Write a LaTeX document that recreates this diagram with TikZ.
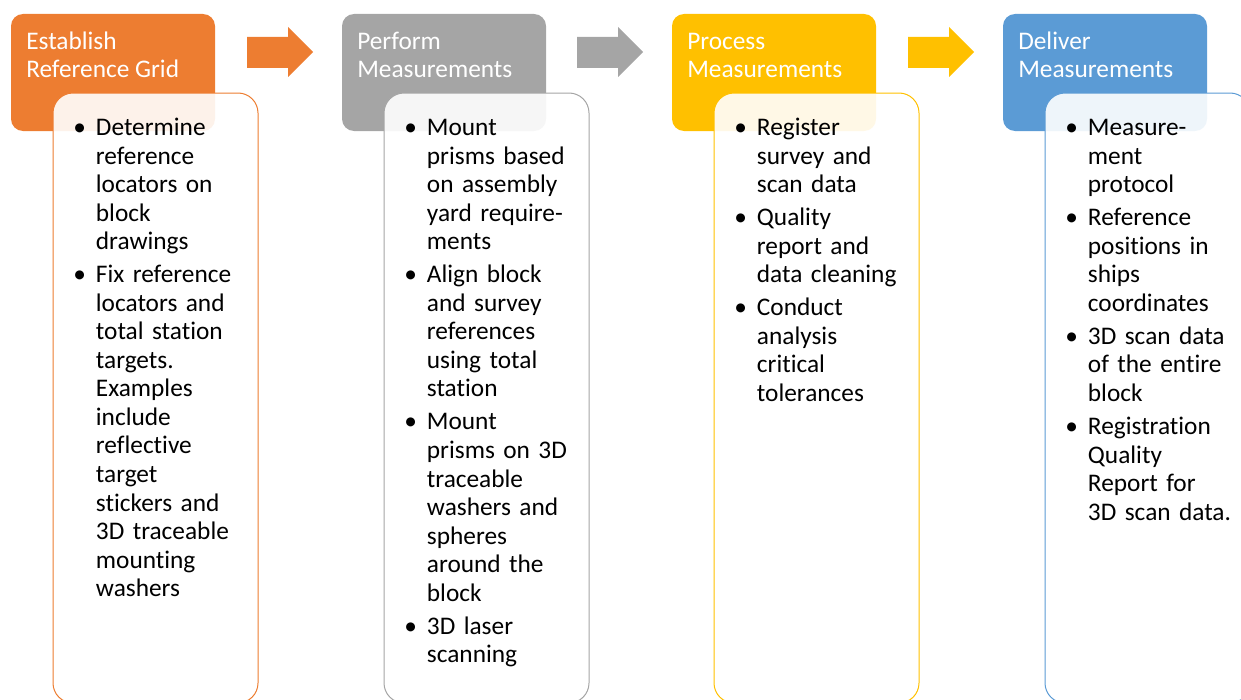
\documentclass[tikz,border=0pt]{standalone}
\usepackage{fontspec}
\setmainfont[Ligatures=NoCommon]{Carlito}
\usepackage{tikz}
\usetikzlibrary{arrows.meta}

\definecolor{estcol}{HTML}{ED7D31}
\definecolor{percol}{HTML}{A5A5A5}
\definecolor{procol}{HTML}{FFC000}
\definecolor{delcol}{HTML}{5B9BD5}

\newcommand{\blistlabel}[1]{#1\hfil}
\newenvironment{blist}{\begin{list}{\textbullet}{%
    \setlength{\leftmargin}{17pt}%
    \setlength{\labelsep}{0pt}%
    \setlength{\labelwidth}{17pt}%
    \setlength{\itemindent}{0pt}%
    \setlength{\itemsep}{3.4pt}%
    \setlength{\parsep}{0pt}%
    \setlength{\topsep}{0pt}%
    \setlength{\partopsep}{0pt}%
    \let\makelabel\blistlabel}\raggedright}{\end{list}}

\tikzset{
  hdtext/.style={anchor=base west,inner sep=0pt,align=left,text=white,
    font=\fontsize{19}{21.4}\selectfont},
  bodytext/.style={anchor=base west,inner sep=0pt,text width=140pt,
    font=\fontsize{19}{21.4}\selectfont},
  bodybox/.style={fill=white,fill opacity=0.9,line width=0.75pt,rounded corners=15pt},
  hdbox/.style={rounded corners=9pt}
}

\begin{document}
\begin{tikzpicture}[x=.75pt,y=-.75pt]
\useasboundingbox (0,0) rectangle (1241,699);
\clip (0,0) rectangle (1241,699);

\fill [hdbox,estcol] (11,14) rectangle (215,131);
\fill [hdbox,percol] (342,14) rectangle (546,131);
\fill [hdbox,procol] (672,14) rectangle (876,131);
\fill [hdbox,delcol] (1003,14) rectangle (1207,131);

\fill [estcol] (247,37) -- (288,37) -- (288,27) -- (313,52) -- (288,77) -- (288,68) -- (247,68) -- cycle;
\fill [percol] (577,37) -- (618,37) -- (618,27) -- (643,52) -- (618,77) -- (618,68) -- (577,68) -- cycle;
\fill [procol] (908,37) -- (949,37) -- (949,27) -- (974,52) -- (949,77) -- (949,68) -- (908,68) -- cycle;

\node [hdtext] (establish) at (26,78) {Establish\\Reference Grid};
\node [hdtext] (perform) at (357,78) {Perform\\Measurements};
\node [hdtext] (process) at (687,78) {Process\\Measurements};
\node [hdtext] (deliver) at (1018,78) {Deliver\\Measurements};

\draw [bodybox,draw=estcol] (53,93) rectangle (258,703);
\draw [bodybox,draw=percol] (384,93) rectangle (589,703);
\draw [bodybox,draw=procol] (714,93) rectangle (919,703);
\draw [bodybox,draw=delcol] (1045,93) rectangle (1250,703);

\node [bodytext] (establishlist) at (73,107) {\begin{blist}
\item Determine\\reference\\locators on\\block\\drawings
\item Fix reference\\locators and\\total station\\targets.\\Examples\\include\\reflective\\target\\stickers and\\3D traceable\\mounting\\washers
\end{blist}};

\node [bodytext] (performlist) at (404,107) {\begin{blist}
\item Mount\\prisms based\\on assembly\\yard require-\\ments
\item Align block\\and survey\\references\\using total\\station
\item Mount\\prisms on 3D\\traceable\\washers and\\spheres\\around the\\block
\item 3D laser\\scanning
\end{blist}};

\node [bodytext] (processlist) at (734,107) {\begin{blist}
\item Register\\survey and\\scan data
\item Quality\\report and\\data cleaning
\item Conduct\\analysis\\critical\\tolerances
\end{blist}};

\node [bodytext] (deliverlist) at (1065,107) {\begin{blist}
\item Measure-\\ment\\protocol
\item Reference\\positions in\\ships\\coordinates
\item 3D scan data\\of the entire\\block
\item Registration\\Quality\\Report for\\3D scan data.
\end{blist}};
\end{tikzpicture}
\end{document}
